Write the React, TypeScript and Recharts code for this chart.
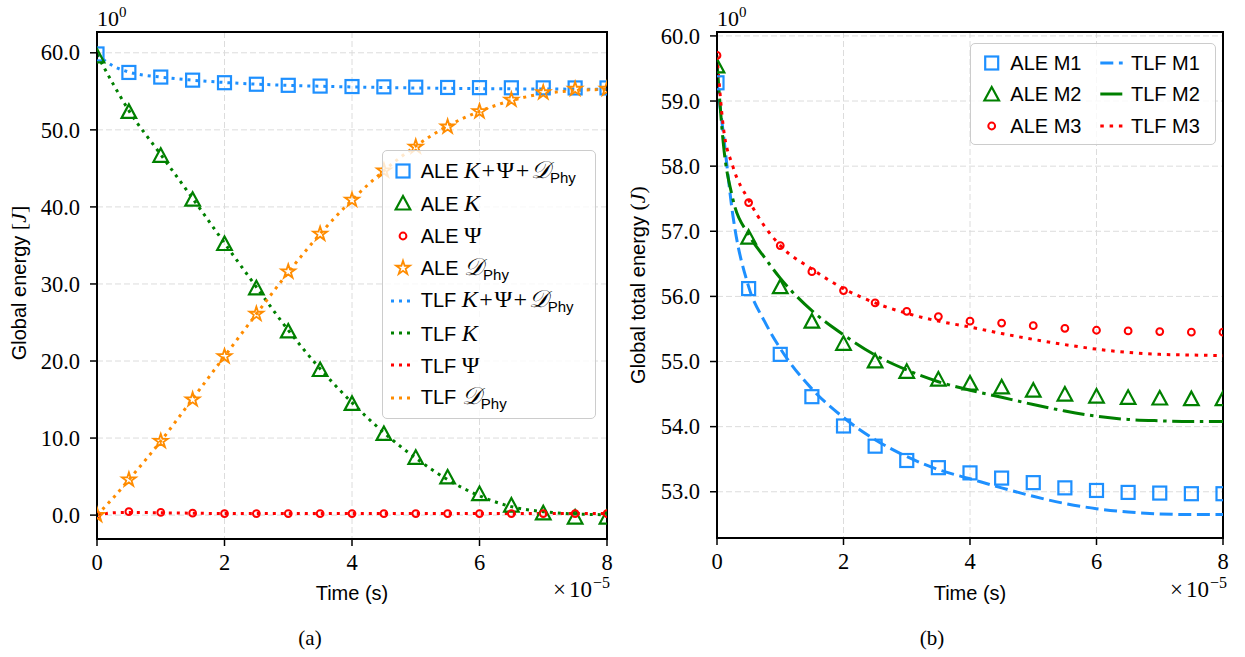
import React from 'react';
import {
  ComposedChart,
  Line,
  XAxis,
  YAxis,
  CartesianGrid,
  Legend,
  Label,
  ReferenceArea,
} from 'recharts';

// ---------- shared time grids (units of 1e-5 s) ----------
const TIME = [0, 0.5, 1, 1.5, 2, 2.5, 3, 3.5, 4, 4.5, 5, 5.5, 6, 6.5, 7, 7.5, 8];
const TLF_TIME_A = [0, 0.25, 0.5, 1, 1.5, 2, 2.5, 3, 3.5, 4, 4.5, 5, 5.5, 6, 6.5, 7, 7.5, 8];
const TLF_TIME_B = [0, 0.1, 0.25, 0.5, 0.75, 1, 1.5, 2, 2.5, 3, 3.5, 4, 4.5, 5, 5.5, 6, 6.5, 7, 7.5, 8];

// ---------- (a) energy components ----------
const ALE_TOTAL = [59.85, 57.45, 56.85, 56.45, 56.12, 55.92, 55.78, 55.68, 55.62, 55.58, 55.54, 55.5, 55.48, 55.46, 55.45, 55.44, 55.44];
const ALE_K = [59.6, 52.4, 46.7, 41.0, 35.25, 29.5, 23.9, 18.9, 14.5, 10.6, 7.5, 4.95, 2.8, 1.3, 0.3, -0.25, -0.25];
const ALE_PSI = [0.0, 0.45, 0.35, 0.25, 0.2, 0.2, 0.2, 0.2, 0.2, 0.2, 0.2, 0.2, 0.2, 0.2, 0.2, 0.2, 0.2];
const ALE_DPHY = [0.0, 4.6, 9.6, 15.0, 20.6, 26.1, 31.6, 36.5, 40.9, 44.7, 47.8, 50.4, 52.4, 53.9, 54.85, 55.3, 55.3];

const TLF_TOTAL = [59.8, 58.3, 57.5, 56.85, 56.45, 56.15, 55.93, 55.78, 55.66, 55.57, 55.5, 55.44, 55.39, 55.35, 55.32, 55.3, 55.28, 55.27];
const TLF_K = [59.8, 56.0, 52.5, 46.8, 41.1, 35.3, 29.6, 24.0, 19.0, 14.6, 10.7, 7.4, 4.6, 2.5, 1.1, 0.45, 0.15, 0.05];
const TLF_PSI = [0.0, 0.3, 0.35, 0.3, 0.25, 0.2, 0.2, 0.2, 0.2, 0.2, 0.2, 0.2, 0.2, 0.2, 0.2, 0.2, 0.2, 0.2];
const TLF_DPHY = [0.0, 2.2, 4.6, 9.6, 15.1, 20.6, 26.1, 31.5, 36.5, 40.9, 44.7, 47.9, 50.5, 52.4, 53.8, 54.7, 55.1, 55.25];

// ---------- (b) total energy per mesh ----------
const ALE_M1 = [59.28, 56.12, 55.11, 54.46, 54.01, 53.7, 53.48, 53.37, 53.29, 53.21, 53.14, 53.06, 53.02, 52.99, 52.98, 52.97, 52.97];
const ALE_M2 = [59.54, 56.91, 56.15, 55.62, 55.28, 55.01, 54.85, 54.73, 54.67, 54.61, 54.56, 54.5, 54.47, 54.45, 54.44, 54.43, 54.43];
const ALE_M3 = [59.7, 57.44, 56.78, 56.38, 56.09, 55.9, 55.77, 55.69, 55.62, 55.59, 55.55, 55.51, 55.48, 55.47, 55.46, 55.45, 55.45];

const TLF_M1 = [59.3, 58.5, 57.25, 56.15, 55.62, 55.2, 54.58, 54.14, 53.8, 53.54, 53.34, 53.2, 53.06, 52.93, 52.82, 52.74, 52.69, 52.66, 52.65, 52.65];
const TLF_M2 = [59.6, 58.35, 57.5, 56.95, 56.6, 56.28, 55.78, 55.41, 55.1, 54.87, 54.69, 54.56, 54.45, 54.34, 54.24, 54.16, 54.11, 54.09, 54.08, 54.08];
const TLF_M3 = [59.7, 58.6, 58.0, 57.48, 57.08, 56.78, 56.42, 56.12, 55.9, 55.74, 55.62, 55.53, 55.43, 55.34, 55.26, 55.19, 55.14, 55.11, 55.1, 55.09];

// ---------- axis ticks & domains ----------
const X_TICKS = [0, 2, 4, 6, 8];
const Y_TICKS_A = [0, 10, 20, 30, 40, 50, 60];
const Y_TICKS_B = [53, 54, 55, 56, 57, 58, 59, 60];
const X_DOMAIN: [number, number] = [0, 8];
const Y_DOMAIN_A: [number, number] = [-3.1, 62.7];
const Y_DOMAIN_B: [number, number] = [52.29, 60.06];

// ---------- styling ----------
const SANS = '"Liberation Sans", Arial, sans-serif';
const SERIF = '"Liberation Serif", "Times New Roman", serif';
const BLUE = '#1E90FF';
const GREEN = '#008000';
const RED = '#FF0000';
const ORANGE = '#FF8C00';
const GRID = '#dcdcdc';
const TICK_FONT = 22.5;

type Pt = { t: number; v: number };
const zip = (ts: number[], vs: number[]): Pt[] => ts.map((t, i) => ({ t, v: vs[i] }));

// ---------- marker shapes ----------
const squareShape = (cx: number, cy: number, color: string, key?: any) => (
  <rect key={key} x={cx - 6.5} y={cy - 6.5} width={13} height={13} fill="none" stroke={color} strokeWidth={2.2} />
);
const triangleShape = (cx: number, cy: number, color: string, key?: any) => (
  <polygon
    key={key}
    points={`${cx},${cy - 7} ${cx - 7.3},${cy + 6.5} ${cx + 7.3},${cy + 6.5}`}
    fill="none"
    stroke={color}
    strokeWidth={2.2}
    strokeLinejoin="miter"
  />
);
const circleShape = (cx: number, cy: number, color: string, key?: any) => (
  <circle key={key} cx={cx} cy={cy} r={3.4} fill="none" stroke={color} strokeWidth={2} />
);
const starShape = (cx: number, cy: number, color: string, key?: any) => {
  const R = 7.3;
  const r = R * 0.381966;
  const pts: string[] = [];
  for (let i = 0; i < 10; i++) {
    const a = -Math.PI / 2 + (i * Math.PI) / 5;
    const rad = i % 2 === 0 ? R : r;
    pts.push(`${(cx + rad * Math.cos(a)).toFixed(2)},${(cy + rad * Math.sin(a)).toFixed(2)}`);
  }
  return <polygon key={key} points={pts.join(' ')} fill="none" stroke={color} strokeWidth={1.8} strokeLinejoin="miter" />;
};

type ShapeFn = (cx: number, cy: number, color: string, key?: any) => React.ReactElement;
const dotRenderer = (shape: ShapeFn, color: string) => (p: any) => {
  if (p == null || p.cx == null || p.cy == null || isNaN(p.cx) || isNaN(p.cy)) return <g key={p?.key} />;
  return shape(p.cx, p.cy, color, p.key);
};

// ---------- tick labels ----------
const XTick = (p: any) => (
  <text x={p.x} y={p.y} dy="0.71em" textAnchor="middle" fill="#000" fontFamily={SERIF} fontSize={TICK_FONT}>
    {String(p.payload.value)}
  </text>
);
const YTick = (p: any) => (
  <text x={p.x} y={p.y} dy="0.34em" textAnchor="end" fill="#000" fontFamily={SERIF} fontSize={TICK_FONT}>
    {Number(p.payload.value).toFixed(1)}
  </text>
);

// ---------- math-ish label pieces ----------
const MATH = 24;
const Ital = ({ children }: { children: React.ReactNode }) => (
  <span style={{ fontFamily: SERIF, fontStyle: 'italic', fontSize: MATH }}>{children}</span>
);
const Rm = ({ children }: { children: React.ReactNode }) => (
  <span style={{ fontFamily: SERIF, fontSize: MATH }}>{children}</span>
);
const Plus = () => (
  <span style={{ fontFamily: SERIF, fontSize: MATH, margin: '0 1.5px' }}>+</span>
);
const Dphy = () => (
  <>
    <span style={{ fontFamily: SERIF, fontStyle: 'italic', fontSize: MATH }}>𝒟</span>
    <span style={{ fontFamily: SANS, fontSize: 15, position: 'relative', top: 5 }}>Phy</span>
  </>
);
const SumExpr = () => (
  <>
    <Ital>K</Ital>
    <Plus />
    <Rm>Ψ</Rm>
    <Plus />
    <Dphy />
  </>
);

// ---------- legends ----------
type Row = { icon: React.ReactNode; label: React.ReactNode };

const lineIcon = (color: string, dash: string, width: number, x1: number, x2: number, cy: number) => (
  <line x1={x1} x2={x2} y1={cy} y2={cy} stroke={color} strokeWidth={width} strokeDasharray={dash} />
);

const ROWS_A: Row[] = [
  { icon: squareShape(20, 14, BLUE), label: <>ALE <SumExpr /></> },
  { icon: triangleShape(20, 14, GREEN), label: <>ALE <Ital>K</Ital></> },
  { icon: circleShape(20, 14, RED), label: <>ALE <Rm>Ψ</Rm></> },
  { icon: starShape(20, 14, ORANGE), label: <>ALE <Dphy /></> },
  { icon: lineIcon(BLUE, '3 5', 3, 8, 31, 14), label: <>TLF <SumExpr /></> },
  { icon: lineIcon(GREEN, '3 5', 3, 8, 31, 14), label: <>TLF <Ital>K</Ital></> },
  { icon: lineIcon(RED, '3 5', 3, 8, 31, 14), label: <>TLF <Rm>Ψ</Rm></> },
  { icon: lineIcon(ORANGE, '3 5', 3, 8, 31, 14), label: <>TLF <Dphy /></> },
];

const legendFrame: React.CSSProperties = {
  position: 'relative',
  boxSizing: 'border-box',
  border: '1.3px solid #cccccc',
  borderRadius: 5,
  background: 'rgba(255,255,255,0.8)',
  fontFamily: SANS,
  fontSize: 20,
  color: '#000',
};

const LegendA = () => (
  <div style={{ ...legendFrame, width: 214, height: 269 }}>
    {ROWS_A.map((r, i) => (
      <div
        key={i}
        style={{ position: 'absolute', left: 0, top: 20 + 32.4 * i - 14, height: 28, display: 'flex', alignItems: 'center', whiteSpace: 'nowrap' }}
      >
        <svg width={38} height={28} style={{ flex: 'none', display: 'block' }}>
          {r.icon}
        </svg>
        <span style={{ lineHeight: '28px' }}>{r.label}</span>
      </div>
    ))}
  </div>
);

const ROWS_B: { left: Row; right: Row }[] = [
  {
    left: { icon: squareShape(20.7, 14, BLUE), label: 'ALE M1' },
    right: { icon: lineIcon(BLUE, '13 5.6', 3, 4.3, 26.7, 14), label: 'TLF M1' },
  },
  {
    left: { icon: triangleShape(20.7, 14, GREEN), label: 'ALE M2' },
    right: { icon: lineIcon(GREEN, '22 5.6 3.5 5.6', 3, 4.3, 26.7, 14), label: 'TLF M2' },
  },
  {
    left: { icon: circleShape(20.7, 14, RED), label: 'ALE M3' },
    right: { icon: lineIcon(RED, '3.5 5.8', 3, 4.3, 26.7, 14), label: 'TLF M3' },
  },
];

const LegendB = () => (
  <div style={{ ...legendFrame, width: 246, height: 102 }}>
    {ROWS_B.map((r, i) => (
      <React.Fragment key={i}>
        <div
          style={{ position: 'absolute', left: 0, top: 18.4 + 31.7 * i - 14, height: 28, display: 'flex', alignItems: 'center', whiteSpace: 'nowrap' }}
        >
          <svg width={39.3} height={28} style={{ flex: 'none', display: 'block' }}>
            {r.left.icon}
          </svg>
          <span style={{ lineHeight: '28px' }}>{r.left.label}</span>
        </div>
        <div
          style={{ position: 'absolute', left: 125, top: 18.4 + 31.7 * i - 14, height: 28, display: 'flex', alignItems: 'center', whiteSpace: 'nowrap' }}
        >
          <svg width={35} height={28} style={{ flex: 'none', display: 'block' }}>
            {r.right.icon}
          </svg>
          <span style={{ lineHeight: '28px' }}>{r.right.label}</span>
        </div>
      </React.Fragment>
    ))}
  </div>
);

// ---------- axis decorations ----------
const axisLineStyle = { stroke: '#000', strokeWidth: 2 };
const tickLineStyle = { stroke: '#000', strokeWidth: 1.5 };

const xTitle = (cx: number, expRight: number, caption: string, capX: number) => () => (
  <g>
    <text x={cx} y={600} textAnchor="middle" fontFamily={SANS} fontSize={20} fill="#000">
      Time (s)
    </text>
    <text x={expRight} y={597} textAnchor="end" fontFamily={SERIF} fontSize={23} fill="#000">
      ×
      <tspan dx={3}>10</tspan>
      <tspan dx={1} dy={-9} fontSize={16}>
        −5
      </tspan>
    </text>
    <text x={capX} y={645} textAnchor="middle" fontFamily={SERIF} fontSize={21} fill="#000">
      {caption}
    </text>
  </g>
);

const yTitle = (bx: number, cy: number, text: string, open: string, close: string) => () => (
  <g>
    <text
      x={bx}
      y={cy}
      transform={`rotate(-90 ${bx} ${cy})`}
      textAnchor="middle"
      fontFamily={SANS}
      fontSize={20}
      fill="#000"
    >
      {text}
      <tspan fontFamily={SERIF} fontSize={22}>
        {open}
      </tspan>
      <tspan fontFamily={SERIF} fontSize={22} fontStyle="italic">
        J
      </tspan>
      <tspan fontFamily={SERIF} fontSize={22}>
        {close}
      </tspan>
    </text>
    <text x={97} y={26} fontFamily={SERIF} fontSize={22} fill="#000">
      10
      <tspan dy={-9} fontSize={15}>
        0
      </tspan>
    </text>
  </g>
);

const dotted = '3 5';

const EnergyComponents = () => (
  <ComposedChart width={620} height={657} margin={{ top: 32, right: 13, bottom: 58, left: 0 }}>
    <CartesianGrid stroke={GRID} strokeDasharray="6 3" strokeWidth={1} />
    <XAxis
      dataKey="t"
      type="number"
      domain={X_DOMAIN}
      ticks={X_TICKS}
      allowDataOverflow
      height={60}
      tickSize={7}
      tickMargin={8}
      tick={XTick}
      axisLine={axisLineStyle}
      tickLine={tickLineStyle}
    >
      <Label content={xTitle(352, 610, '(a)', 310)} />
    </XAxis>
    <YAxis
      type="number"
      domain={Y_DOMAIN_A}
      ticks={Y_TICKS_A}
      allowDataOverflow
      width={97}
      tickSize={7}
      tickMargin={10}
      tick={YTick}
      axisLine={axisLineStyle}
      tickLine={tickLineStyle}
    >
      <Label content={yTitle(26, 283, 'Global energy ', '[', ']')} />
    </YAxis>
    <ReferenceArea x1={0} x2={8} y1={Y_DOMAIN_A[0]} y2={Y_DOMAIN_A[1]} fill="none" fillOpacity={0} stroke="#000" strokeWidth={2} ifOverflow="visible" />

    <Line data={zip(TLF_TIME_A, TLF_TOTAL)} dataKey="v" type="monotone" stroke={BLUE} strokeWidth={3} strokeDasharray={dotted} dot={false} activeDot={false} isAnimationActive={false} />
    <Line data={zip(TLF_TIME_A, TLF_K)} dataKey="v" type="monotone" stroke={GREEN} strokeWidth={3} strokeDasharray={dotted} dot={false} activeDot={false} isAnimationActive={false} />
    <Line data={zip(TLF_TIME_A, TLF_PSI)} dataKey="v" type="monotone" stroke={RED} strokeWidth={3} strokeDasharray={dotted} dot={false} activeDot={false} isAnimationActive={false} />
    <Line data={zip(TLF_TIME_A, TLF_DPHY)} dataKey="v" type="monotone" stroke={ORANGE} strokeWidth={3} strokeDasharray={dotted} dot={false} activeDot={false} isAnimationActive={false} />

    <Line data={zip(TIME, ALE_TOTAL)} dataKey="v" stroke="none" dot={dotRenderer(squareShape, BLUE)} activeDot={false} isAnimationActive={false} />
    <Line data={zip(TIME, ALE_K)} dataKey="v" stroke="none" dot={dotRenderer(triangleShape, GREEN)} activeDot={false} isAnimationActive={false} />
    <Line data={zip(TIME, ALE_PSI)} dataKey="v" stroke="none" dot={dotRenderer(circleShape, RED)} activeDot={false} isAnimationActive={false} />
    <Line data={zip(TIME, ALE_DPHY)} dataKey="v" stroke="none" dot={dotRenderer(starShape, ORANGE)} activeDot={false} isAnimationActive={false} />

    <Legend
      layout="vertical"
      align="center"
      verticalAlign="middle"
      wrapperStyle={{ left: 381.7, top: 150, width: 214, height: 269 }}
      content={() => <LegendA />}
    />
  </ComposedChart>
);

const TotalEnergy = () => (
  <ComposedChart width={625} height={657} margin={{ top: 32, right: 22, bottom: 59, left: 0 }}>
    <CartesianGrid stroke={GRID} strokeDasharray="6 3" strokeWidth={1} />
    <XAxis
      dataKey="t"
      type="number"
      domain={X_DOMAIN}
      ticks={X_TICKS}
      allowDataOverflow
      height={60}
      tickSize={7}
      tickMargin={8}
      tick={XTick}
      axisLine={axisLineStyle}
      tickLine={tickLineStyle}
    >
      <Label content={xTitle(350, 607, '(b)', 312)} />
    </XAxis>
    <YAxis
      type="number"
      domain={Y_DOMAIN_B}
      ticks={Y_TICKS_B}
      allowDataOverflow
      width={97}
      tickSize={7}
      tickMargin={10}
      tick={YTick}
      axisLine={axisLineStyle}
      tickLine={tickLineStyle}
    >
      <Label content={yTitle(25, 285, 'Global total energy ', '(', ')')} />
    </YAxis>
    <ReferenceArea x1={0} x2={8} y1={Y_DOMAIN_B[0]} y2={Y_DOMAIN_B[1]} fill="none" fillOpacity={0} stroke="#000" strokeWidth={2} ifOverflow="visible" />

    <Line data={zip(TLF_TIME_B, TLF_M1)} dataKey="v" type="monotone" stroke={BLUE} strokeWidth={3} strokeDasharray="13 5.6" dot={false} activeDot={false} isAnimationActive={false} />
    <Line data={zip(TLF_TIME_B, TLF_M2)} dataKey="v" type="monotone" stroke={GREEN} strokeWidth={3} strokeDasharray="22 5.6 3.5 5.6" dot={false} activeDot={false} isAnimationActive={false} />
    <Line data={zip(TLF_TIME_B, TLF_M3)} dataKey="v" type="monotone" stroke={RED} strokeWidth={3} strokeDasharray="3.5 5.8" dot={false} activeDot={false} isAnimationActive={false} />

    <Line data={zip(TIME, ALE_M1)} dataKey="v" stroke="none" dot={dotRenderer(squareShape, BLUE)} activeDot={false} isAnimationActive={false} />
    <Line data={zip(TIME, ALE_M2)} dataKey="v" stroke="none" dot={dotRenderer(triangleShape, GREEN)} activeDot={false} isAnimationActive={false} />
    <Line data={zip(TIME, ALE_M3)} dataKey="v" stroke="none" dot={dotRenderer(circleShape, RED)} activeDot={false} isAnimationActive={false} />

    <Legend
      layout="vertical"
      align="center"
      verticalAlign="middle"
      wrapperStyle={{ left: 350, top: 43.3, width: 246, height: 102 }}
      content={() => <LegendB />}
    />
  </ComposedChart>
);

export default function App() {
  return (
    <div style={{ position: 'absolute', left: 0, top: 0, width: 1245, height: 657, background: '#fff' }}>
      <div style={{ position: 'absolute', left: 0, top: 0 }}>
        <EnergyComponents />
      </div>
      <div style={{ position: 'absolute', left: 620, top: 0 }}>
        <TotalEnergy />
      </div>
    </div>
  );
}
